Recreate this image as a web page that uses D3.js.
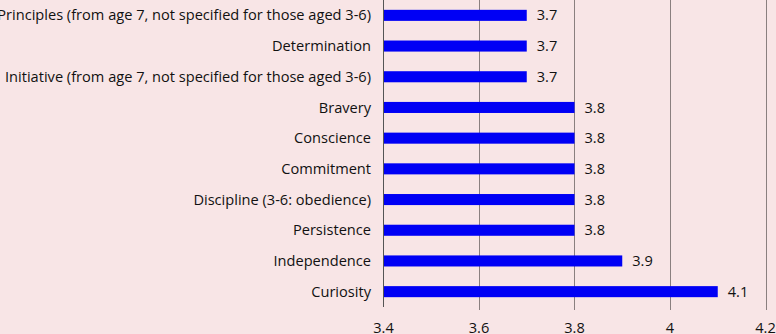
<!DOCTYPE html>
<html><head><meta charset="utf-8">
<script src="https://cdn.jsdelivr.net/npm/d3@7"></script>
<style>
html,body{margin:0;padding:0;background:#f8e5e6;}
svg{display:block;}
</style></head>
<body>
<svg id="c" width="776" height="334"></svg>
<script>
const categories = [
  "Principles (from age 7, not specified for those aged 3-6)",
  "Determination",
  "Initiative (from age 7, not specified for those aged 3-6)",
  "Bravery",
  "Conscience",
  "Commitment",
  "Discipline (3-6: obedience)",
  "Persistence",
  "Independence",
  "Curiosity"
];
const values = [3.7, 3.7, 3.7, 3.8, 3.8, 3.8, 3.8, 3.8, 3.9, 4.1];
const xTicks = [3.4, 3.6, 3.8, 4, 4.2];

const svg = d3.select("#c");
const font = "'Open Sans', sans-serif";
const x = d3.scaleLinear().domain([3.4, 4.2]).range([383.5, 765.5]);
const y = d3.scaleBand().domain(categories).range([0, 307]).paddingInner(0.64).paddingOuter(0.32);

svg.append("rect").attr("width", 776).attr("height", 334).attr("fill", "#f8e5e6");

// gridlines
svg.append("g").selectAll("line").data(xTicks.slice(1)).join("line")
  .attr("x1", d => Math.round(x(d)) + 0.5).attr("x2", d => Math.round(x(d)) + 0.5)
  .attr("y1", 0).attr("y2", 310)
  .attr("stroke", "#8a7f7f").attr("stroke-width", 1);

// bars
svg.append("g").selectAll("rect").data(categories).join("rect")
  .attr("x", x(3.4))
  .attr("y", d => y(d))
  .attr("width", (d, i) => x(values[i]) - x(3.4))
  .attr("height", y.bandwidth())
  .attr("fill", "#0000f5");

// axis line
svg.append("line").attr("x1", 383.5).attr("x2", 383.5).attr("y1", 0).attr("y2", 307)
  .attr("stroke", "#555").attr("stroke-width", 1);

// category labels
svg.append("g").selectAll("text").data(categories).join("text")
  .attr("x", 371).attr("y", d => y(d) + y.bandwidth() / 2)
  .attr("dy", "0.35em").attr("text-anchor", "end")
  .attr("font-family", font).attr("font-size", 14.6).attr("fill", "#111")
  .text(d => d);

// value labels
svg.append("g").selectAll("text").data(categories).join("text")
  .attr("x", (d, i) => x(values[i]) + 10).attr("y", d => y(d) + y.bandwidth() / 2)
  .attr("dy", "0.35em")
  .attr("font-family", font).attr("font-size", 14.6).attr("fill", "#111")
  .text((d, i) => values[i]);

// x tick labels
svg.append("g").selectAll("text").data(xTicks).join("text")
  .attr("x", d => x(d)).attr("y", 333)
  .attr("text-anchor", "middle")
  .attr("font-family", font).attr("font-size", 14.6).attr("fill", "#111")
  .text(d => d);
</script>
</body></html>
